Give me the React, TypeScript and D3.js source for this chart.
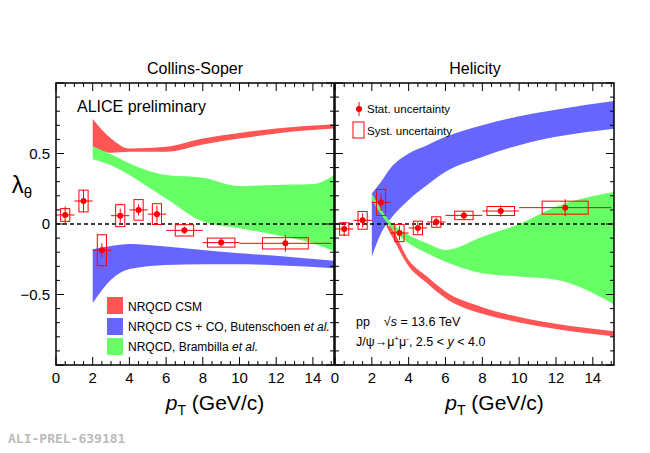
import React from "react";
import * as d3 from "d3";

const ptX = [0.5, 1.5, 2.5, 3.5, 4.5, 5.5, 7, 9, 12.5];
const binLo = [0, 1, 2, 3, 4, 5, 6, 8, 10];
const binHi = [1, 2, 3, 4, 5, 6, 8, 10, 15];
const boxHalfW = [0.25, 0.25, 0.25, 0.25, 0.25, 0.25, 0.5, 0.75, 1.25];
const csY = [0.064, 0.163, -0.186, 0.059, 0.1, 0.07, -0.045, -0.132, -0.137];
const csStat = [0.06, 0.08, 0.05, 0.05, 0.04, 0.06, 0.025, 0.03, 0.06];
const csSyst = [0.045, 0.077, 0.11, 0.078, 0.073, 0.074, 0.04, 0.032, 0.04];
const hxY = [-0.035, 0.026, 0.153, -0.064, -0.028, 0.014, 0.061, 0.092, 0.116];
const hxStat = [0.05, 0.05, 0.06, 0.05, 0.04, 0.03, 0.03, 0.04, 0.06];
const hxSyst = [0.044, 0.063, 0.092, 0.061, 0.048, 0.037, 0.03, 0.032, 0.046];

type B = [number, number, number][];
const csRed: B = [[2, 0.745, 0.55], [3, 0.606, 0.505], [4, 0.535, 0.512], [6, 0.547, 0.512], [8, 0.606, 0.564], [10, 0.646, 0.606], [12, 0.677, 0.642], [15.2, 0.708, 0.677]];
const csGreen: B = [[2, 0.552, 0.46], [3, 0.495, 0.417], [4, 0.43, 0.347], [5, 0.377, 0.264], [6, 0.347, 0.18], [8, 0.328, 0.017], [10, 0.269, -0.03], [12, 0.276, -0.078], [14, 0.283, -0.137], [15.2, 0.35, -0.196]];
const csBlue: B = [[2, -0.179, -0.561], [3, -0.156, -0.396], [4, -0.142, -0.32], [6, -0.16, -0.29], [8, -0.184, -0.285], [10, -0.208, -0.285], [12, -0.226, -0.292], [15.2, -0.262, -0.314]];
const hxBlue: B = [[2, 0.217, -0.231], [2.5, 0.3, -0.066], [3, 0.394, 0.033], [4, 0.5, 0.17], [5, 0.559, 0.276], [6, 0.618, 0.37], [8, 0.7, 0.476], [10, 0.764, 0.559], [12, 0.811, 0.618], [15.2, 0.873, 0.677]];
const hxRed: B = [[2.8, 0.0, -0.02], [3, -0.019, -0.066], [4, -0.255, -0.3], [5, -0.373, -0.42], [6, -0.479, -0.526], [8, -0.59, -0.637], [10, -0.66, -0.698], [12, -0.708, -0.745], [15.2, -0.762, -0.797]];
const hxGreen: B = [[2, 0.217, 0.17], [3, 0.017, -0.019], [4, -0.078, -0.137], [5, -0.137, -0.208], [6, -0.184, -0.267], [8, -0.09, -0.349], [10, 0, -0.373], [12, 0.123, -0.396], [15.2, 0.229, -0.573]];

const xTicks = [0, 2, 4, 6, 8, 10, 12, 14];
const yTicks = [-0.5, 0, 0.5];
const yTickLabels = ["\u22120.5", "0", "0.5"];

const RED = "#ff5555";
const BLUE = "#6666ff";
const GREEN = "#66ff66";
const PT = "#ff0000";
const font = "Liberation Sans, Arial, sans-serif";

const top = 83, bottom = 365;
const y = d3.scaleLinear().domain([-1, 1]).range([bottom, top]);

function Panel({ x0, x1, data, stat, syst, bands }: any) {
  const x = d3.scaleLinear().domain([0, 15.15]).range([x0, x1]);
  const area = d3.area<[number, number, number]>().x(d => x(d[0])).y0(d => y(d[2])).y1(d => y(d[1])).curve(d3.curveMonotoneX);
  const minorX = d3.range(0, 15.2, 0.5);
  const minorY = d3.range(-1, 1.001, 0.1);
  return (
    <g>
      <defs><clipPath id={"c" + x0}><rect x={x0} y={top} width={x1 - x0} height={bottom - top} /></clipPath></defs>
      <g clipPath={`url(#c${x0})`}>
        {bands.map((b: any, i: number) => <path key={i} d={area(b[0])!} fill={b[1]} />)}
      </g>
      <line x1={x0} x2={x1} y1={y(0)} y2={y(0)} stroke="#000" strokeWidth={1.5} strokeDasharray="4,3" />
      {ptX.map((px, i) => (
        <g key={i}>
          <rect x={x(px - boxHalfW[i])} y={y(data[i] + syst[i])} width={x(px + boxHalfW[i]) - x(px - boxHalfW[i])} height={y(data[i] - syst[i]) - y(data[i] + syst[i])} fill="none" stroke={PT} strokeWidth={1} />
          <line x1={x(binLo[i])} x2={x(binHi[i])} y1={y(data[i])} y2={y(data[i])} stroke={PT} strokeWidth={1} />
          <line x1={x(px)} x2={x(px)} y1={y(data[i] + stat[i])} y2={y(data[i] - stat[i])} stroke={PT} strokeWidth={1} />
          <circle cx={x(px)} cy={y(data[i])} r={3} fill={PT} />
        </g>
      ))}
      {minorX.map(t => {
        const big = t % 2 === 0;
        const l = big ? 8 : 4;
        return <g key={"x" + t}>
          <line x1={x(t)} x2={x(t)} y1={bottom} y2={bottom - l} stroke="#000" />
          <line x1={x(t)} x2={x(t)} y1={top} y2={top + l} stroke="#000" />
        </g>;
      })}
      {minorY.map((t, i) => {
        const big = i % 5 === 0;
        const l = big ? 8 : 4;
        return <g key={"y" + i}>
          <line x1={x0} x2={x0 + l} y1={y(t)} y2={y(t)} stroke="#000" />
          <line x1={x1} x2={x1 - l} y1={y(t)} y2={y(t)} stroke="#000" />
        </g>;
      })}
      <rect x={x0} y={top} width={x1 - x0} height={bottom - top} fill="none" stroke="#000" strokeWidth={1.5} />
      {xTicks.map(t => <text key={t} x={x(t)} y={bottom + 18} textAnchor="middle" fontSize={15} fontFamily={font}>{t}</text>)}
      <text x={(x0 + x1) / 2 + 20} y={410} textAnchor="middle" fontSize={21} fontFamily={font}>
        <tspan fontStyle="italic">p</tspan><tspan fontSize={14} dy={5}>T</tspan><tspan dy={-5}> (GeV/c)</tspan>
      </text>
    </g>
  );
}

export default function App() {
  const lx0 = 56, lx1 = 334, rx0 = 335, rx1 = 614;
  return (
    <svg width={650} height={453} style={{ position: "absolute", left: 0, top: 0, background: "#fff" }}>
      <Panel x0={lx0} x1={lx1} data={csY} stat={csStat} syst={csSyst} bands={[[csRed, RED], [csGreen, GREEN], [csBlue, BLUE]]} />
      <Panel x0={rx0} x1={rx1} data={hxY} stat={hxStat} syst={hxSyst} bands={[[hxBlue, BLUE], [hxGreen, GREEN], [hxRed, RED]]} />
      {yTicks.map((t, i) => <text key={t} x={50} y={y(t) + 5} textAnchor="end" fontSize={15} fontFamily={font}>{yTickLabels[i]}</text>)}
      <text x={22} y={193} fontSize={24} fontFamily={font} textAnchor="middle">λ<tspan fontSize={15} dy={5}>θ</tspan></text>
      <text x={195} y={74} textAnchor="middle" fontSize={16} fontFamily={font}>Collins-Soper</text>
      <text x={475} y={74} textAnchor="middle" fontSize={16} fontFamily={font}>Helicity</text>
      <text x={77} y={112} fontSize={16} fontFamily={font}>ALICE preliminary</text>
      <rect x={107} y={297} width={16} height={17} fill={RED} />
      <text x={128} y={311} fontSize={12} fontFamily={font}>NRQCD CSM</text>
      <rect x={107} y={318} width={16} height={17} fill={BLUE} />
      <text x={128} y={331} fontSize={12} fontFamily={font}>NRQCD CS + CO, Butenschoen <tspan fontStyle="italic">et al.</tspan></text>
      <rect x={107} y={338} width={16} height={17} fill={GREEN} />
      <text x={128} y={351} fontSize={12} fontFamily={font}>NRQCD, Brambilla <tspan fontStyle="italic">et al.</tspan></text>
      <line x1={359} x2={359} y1={102} y2={116} stroke={PT} />
      <circle cx={359} cy={109} r={3} fill={PT} />
      <text x={367} y={113} fontSize={11.5} fontFamily={font}>Stat. uncertainty</text>
      <rect x={353} y={122} width={11} height={16} fill="none" stroke={PT} />
      <text x={367} y={135} fontSize={11.5} fontFamily={font}>Syst. uncertainty</text>
      <text x={356} y={326} fontSize={12.5} fontFamily={font} xmlSpace="preserve">pp    √<tspan fontStyle="italic">s</tspan> = 13.6 TeV</text>
      <text x={356} y={346} fontSize={12.5} fontFamily={font}>J/ψ→μ<tspan fontSize={8} dy={-5}>+</tspan><tspan dy={5}>μ</tspan><tspan fontSize={8} dy={-5}>-</tspan><tspan dy={5}>, 2.5 &lt; </tspan><tspan fontStyle="italic">y</tspan> &lt; 4.0</text>
      <text x={8} y={443} fontSize={13} fontFamily="DejaVu Sans Mono, monospace" fontWeight="bold" fill="#bbbbbb">ALI-PREL-639181</text>
    </svg>
  );
}
